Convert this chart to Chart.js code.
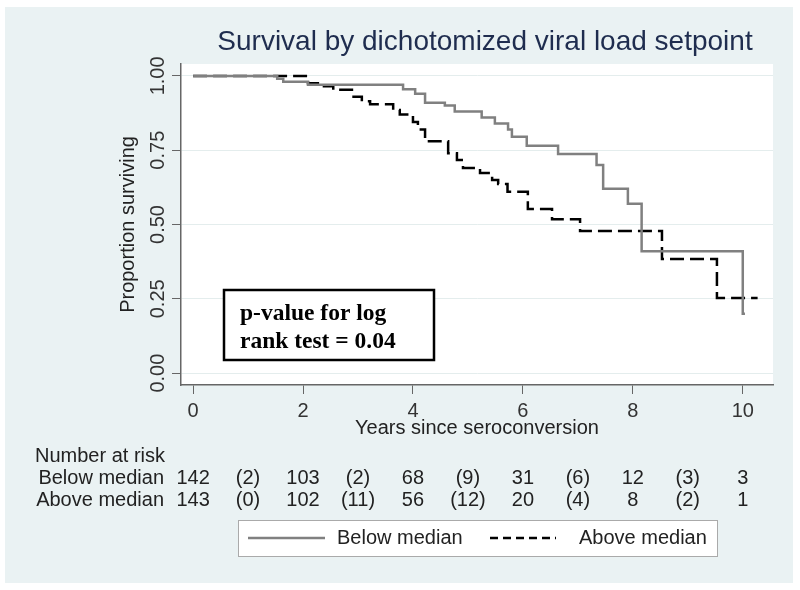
<!DOCTYPE html>
<html>
<head>
<meta charset="utf-8">
<script src="https://cdn.jsdelivr.net/npm/chart.js@4.4.0/dist/chart.umd.min.js"></script>
<style>
  html, body { margin: 0; padding: 0; background: #fff; }
</style>
</head>
<body>
<canvas id="km" width="800" height="590"></canvas>
<script>
// Kaplan-Meier steps (time in years, proportion after the step)
const belowTimes = [0, 1.53, 1.64, 2.09, 3.82, 4.04, 4.22, 4.58, 4.76, 5.25, 5.49, 5.73, 5.80, 6.07, 6.64, 7.34, 7.46, 7.91, 8.16, 10.0, 10.04];
const belowSurv  = [1.00, 0.99, 0.98, 0.97, 0.955, 0.94, 0.91, 0.90, 0.88, 0.86, 0.84, 0.82, 0.795, 0.765, 0.737, 0.70, 0.62, 0.57, 0.41, 0.20, 0.20];
const aboveTimes = [0, 2.09, 2.27, 2.55, 2.89, 3.07, 3.22, 3.64, 3.76, 4.00, 4.09, 4.22, 4.64, 4.80, 4.91, 5.22, 5.44, 5.55, 5.72, 6.09, 6.53, 7.04, 8.53, 9.53, 10.27];
const aboveSurv  = [1.00, 0.975, 0.965, 0.953, 0.93, 0.915, 0.905, 0.885, 0.87, 0.845, 0.82, 0.78, 0.74, 0.717, 0.69, 0.673, 0.65, 0.636, 0.61, 0.552, 0.518, 0.478, 0.384, 0.253, 0.253];

const xTicks = [0, 2, 4, 6, 8, 10];
const yTicks = [0, 0.25, 0.5, 0.75, 1];
const yTickLabels = ["0.00", "0.25", "0.50", "0.75", "1.00"];

// number at risk table: one column per year
const riskYears = [0, 1, 2, 3, 4, 5, 6, 7, 8, 9, 10];
const riskBelow = ["142", "(2)", "103", "(2)", "68", "(9)", "31", "(6)", "12", "(3)", "3"];
const riskAbove = ["143", "(0)", "102", "(11)", "56", "(12)", "20", "(4)", "8", "(2)", "1"];

const seriesNames = ["Below median", "Above median"];

const toPoints = (ts, ss) => ts.map((t, i) => ({ x: t, y: ss[i] }));

const SANS = '"Liberation Sans", Arial, sans-serif';
const SERIF = '"Liberation Serif", "Times New Roman", serif';

const decor = {
  id: "decor",
  beforeDraw(chart) {
    const { ctx, chartArea: a } = chart;
    ctx.save();
    ctx.fillStyle = "#ffffff";
    ctx.fillRect(0, 0, chart.width, chart.height);
    ctx.fillStyle = "#eaf2f3";
    ctx.fillRect(5, 7, 788, 576);
    ctx.fillStyle = "#ffffff";
    ctx.fillRect(a.left, a.top, a.right - a.left, a.bottom - a.top);
    ctx.restore();
  },
  afterDraw(chart) {
    const { ctx } = chart;
    const xs = chart.scales.x, ys = chart.scales.y;
    ctx.save();

    // title
    ctx.fillStyle = "#1f2d4f";
    ctx.font = "28px " + SANS;
    ctx.textAlign = "center";
    ctx.textBaseline = "middle";
    ctx.fillText("Survival by dichotomized viral load setpoint", 485, 42);

    // rotated y tick labels
    ctx.fillStyle = "#333";
    ctx.font = "20px " + SANS;
    yTicks.forEach((v, i) => {
      ctx.save();
      ctx.translate(158, ys.getPixelForValue(v));
      ctx.rotate(-Math.PI / 2);
      ctx.fillText(yTickLabels[i], 0, 0);
      ctx.restore();
    });

    // p-value box
    ctx.fillStyle = "#fff";
    ctx.fillRect(224, 290, 210, 70);
    ctx.strokeStyle = "#000";
    ctx.lineWidth = 2.5;
    ctx.strokeRect(224, 290, 210, 70);
    ctx.fillStyle = "#000";
    ctx.font = "bold 23.5px " + SERIF;
    ctx.textAlign = "left";
    ctx.textBaseline = "alphabetic";
    ctx.fillText("p-value for log", 240, 320);
    ctx.fillText("rank test = 0.04", 240, 348);

    // number at risk
    ctx.fillStyle = "#222";
    ctx.font = "20px " + SANS;
    ctx.textBaseline = "middle";
    ctx.textAlign = "left";
    ctx.fillText("Number at risk", 35, 456);
    ctx.textAlign = "right";
    ctx.fillText(seriesNames[0], 164, 478);
    ctx.fillText(seriesNames[1], 164, 500);
    ctx.textAlign = "center";
    riskYears.forEach((yr, i) => {
      const px = xs.getPixelForValue(yr);
      ctx.fillText(riskBelow[i], px, 478);
      ctx.fillText(riskAbove[i], px, 500);
    });

    // legend
    ctx.fillStyle = "#fff";
    ctx.fillRect(238.5, 520.5, 479, 36);
    ctx.strokeStyle = "#aaa";
    ctx.lineWidth = 1;
    ctx.strokeRect(238.5, 520.5, 479, 36);
    ctx.lineWidth = 2.5;
    ctx.strokeStyle = "#808080";
    ctx.beginPath(); ctx.moveTo(248, 538); ctx.lineTo(325, 538); ctx.stroke();
    ctx.strokeStyle = "#000";
    ctx.setLineDash([8, 5]);
    ctx.beginPath(); ctx.moveTo(490, 538); ctx.lineTo(556, 538); ctx.stroke();
    ctx.setLineDash([]);
    ctx.fillStyle = "#222";
    ctx.textAlign = "left";
    ctx.fillText(seriesNames[0], 337, 538);
    ctx.fillText(seriesNames[1], 579, 538);

    ctx.restore();
  }
};

new Chart(document.getElementById("km"), {
  type: "line",
  data: {
    datasets: [
      { label: seriesNames[0], data: toPoints(belowTimes, belowSurv), borderColor: "#808080", borderWidth: 2.5, stepped: "before", pointRadius: 0, fill: false },
      { label: seriesNames[1], data: toPoints(aboveTimes, aboveSurv), borderColor: "#000000", borderWidth: 2.5, borderDash: [14, 6], stepped: "before", pointRadius: 0, fill: false },
    ],
  },
  options: {
    responsive: false,
    animation: false,
    layout: { padding: { top: 64, right: 27, bottom: 0, left: 0 } },
    plugins: { legend: { display: false }, title: { display: false }, tooltip: { enabled: false } },
    scales: {
      x: {
        type: "linear",
        min: -0.22,
        max: 10.55,
        afterFit: (s) => { s.height = 205; },
        afterBuildTicks: (s) => { s.ticks = xTicks.map((v) => ({ value: v })); },
        grid: { drawOnChartArea: false, tickColor: "#666", tickLength: 9 },
        border: { color: "#666", width: 1.5 },
        ticks: { color: "#333", font: { family: SANS, size: 20 }, padding: 5, maxRotation: 0 },
        title: { display: true, text: "Years since seroconversion", color: "#222", font: { family: SANS, size: 20 }, padding: { top: 0, bottom: 149.6 } },
      },
      y: {
        min: -0.04,
        max: 1.04,
        afterFit: (s) => { s.width = 181; },
        afterBuildTicks: (s) => { s.ticks = yTicks.map((v) => ({ value: v })); },
        grid: { color: "#e4eded", tickColor: "#666", tickLength: 9 },
        border: { color: "#666", width: 1.5 },
        ticks: { color: "rgba(0,0,0,0)", font: { family: SANS, size: 20 } },
        title: { display: true, text: "Proportion surviving", color: "#222", font: { family: SANS, size: 20 }, padding: { top: 116.6, bottom: 0 } },
      },
    },
  },
  plugins: [decor],
});
</script>
</body>
</html>
